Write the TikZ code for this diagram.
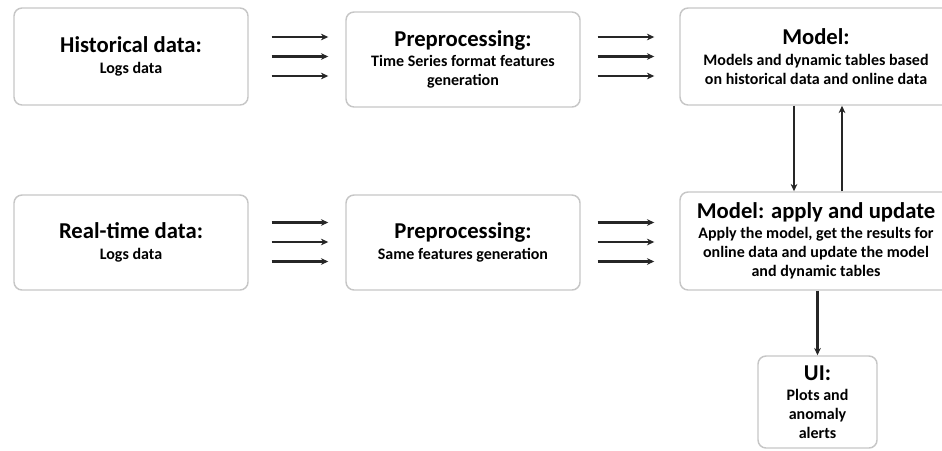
\documentclass[tikz,border=0pt]{standalone}
\usepackage{fontspec}
\setmainfont{Carlito}
\usetikzlibrary{arrows.meta,calc}

\tikzset{
  stage/.style={draw=gray!45, line width=1.1pt, rounded corners=6pt, align=center, inner sep=2pt, font=\bfseries\subfont},
  arr/.style={-{Stealth[length=5.5pt,width=5pt]}, line width=1.7pt, black!85},
}
\newcommand{\ttlfont}{\fontsize{17}{19}\selectfont}
\newcommand{\subfont}{\fontsize{12}{14.3}\selectfont}

\begin{document}
\begin{tikzpicture}[x=0.75pt,y=0.75pt,yscale=-1,xscale=1]
\useasboundingbox (0,0) rectangle (942,450);

% first row
\node[stage, minimum width=175.5pt, minimum height=72.75pt] (hist) at (131,56.5)
  {\ttlfont Historical data:\\[1pt] Logs data};
\node[stage, minimum width=175.5pt, minimum height=71.25pt] (prepA) at (463,59.5)
  {\ttlfont Preprocessing:\\[1pt] Time Series format features\\ generation};
\node[stage, minimum width=204pt, minimum height=72.75pt] (model) at (816,56.5)
  {\ttlfont Model:\\[1pt] Models and dynamic tables based\\ on historical data and online data};

% second row
\node[stage, minimum width=175.5pt, minimum height=71.25pt] (real) at (131,242.5)
  {\ttlfont Real-time data:\\[1pt] Logs data};
\node[stage, minimum width=175.5pt, minimum height=71.25pt] (prepB) at (463,242.5)
  {\ttlfont Preprocessing:\\[1pt] Same features generation};
\node[stage, minimum width=204pt, minimum height=73.5pt] (apply) at (816,241)
  {\ttlfont Model: apply and update\\[1pt] Apply the model, get the results for\\ online data and update the model\\ and dynamic tables};

% output
\node[stage, minimum width=89.25pt, minimum height=69pt] (ui) at (817.5,402)
  {\ttlfont UI:\\[1pt] Plots and\\ anomaly\\ alerts};

% triple arrows
\foreach \d [count=\i] in {-19.5,0,19.5} {
  \coordinate (h\i) at ($(hist.east)+(0,\d)$);
  \draw[arr, shorten <=17.25pt, shorten >=12.75pt] (h\i) -- (h\i -| prepA.west);
  \draw[arr, shorten <=12.75pt, shorten >=18.75pt] (h\i -| prepA.east) -- (h\i -| model.west);
  \coordinate (r\i) at ($(real.east)+(0,\d-0.5)$);
  \draw[arr, shorten <=17.25pt, shorten >=12.75pt] (r\i) -- (r\i -| prepB.west);
  \draw[arr, shorten <=12.75pt, shorten >=18.75pt] (r\i -| prepB.east) -- (r\i -| apply.west);
}

% model loop
\coordinate (down) at ($(model.south)+(-22,0)$);
\coordinate (up) at ($(model.south)+(26,0)$);
\draw[arr] (down) -- (down |- apply.north);
\draw[arr] (up |- apply.north) -- (up);

\draw[arr] (apply.south -| ui) -- (ui.north);

\end{tikzpicture}
\end{document}
